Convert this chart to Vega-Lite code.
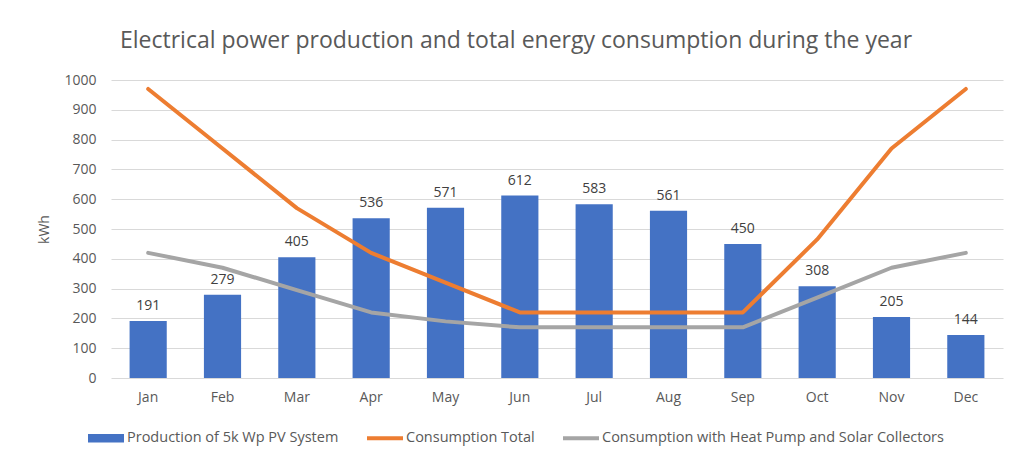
{
  "$schema": "https://vega.github.io/schema/vega-lite/v6.json",
  "width": 892,
  "height": 298,
  "autosize": {"type": "none"},
  "padding": {"left": 111, "top": 80, "right": 10, "bottom": 81},
  "background": "white",
  "config": {"font": "Open Sans", "view": {"stroke": null}},
  "title": {
    "text": "Electrical power production and total energy consumption during the year",
    "fontSize": 23,
    "fontWeight": "normal",
    "color": "#595959",
    "anchor": "middle",
    "dx": -41,
    "baseline": "alphabetic",
    "offset": 2
  },
  "data": {
    "values": [
      {"month": "Jan", "series": "Production of 5k Wp PV System", "kwh": 191},
      {"month": "Feb", "series": "Production of 5k Wp PV System", "kwh": 279},
      {"month": "Mar", "series": "Production of 5k Wp PV System", "kwh": 405},
      {"month": "Apr", "series": "Production of 5k Wp PV System", "kwh": 536},
      {"month": "May", "series": "Production of 5k Wp PV System", "kwh": 571},
      {"month": "Jun", "series": "Production of 5k Wp PV System", "kwh": 612},
      {"month": "Jul", "series": "Production of 5k Wp PV System", "kwh": 583},
      {"month": "Aug", "series": "Production of 5k Wp PV System", "kwh": 561},
      {"month": "Sep", "series": "Production of 5k Wp PV System", "kwh": 450},
      {"month": "Oct", "series": "Production of 5k Wp PV System", "kwh": 308},
      {"month": "Nov", "series": "Production of 5k Wp PV System", "kwh": 205},
      {"month": "Dec", "series": "Production of 5k Wp PV System", "kwh": 144},
      {"month": "Jan", "series": "Consumption Total", "kwh": 970},
      {"month": "Feb", "series": "Consumption Total", "kwh": 770},
      {"month": "Mar", "series": "Consumption Total", "kwh": 570},
      {"month": "Apr", "series": "Consumption Total", "kwh": 420},
      {"month": "May", "series": "Consumption Total", "kwh": 320},
      {"month": "Jun", "series": "Consumption Total", "kwh": 220},
      {"month": "Jul", "series": "Consumption Total", "kwh": 220},
      {"month": "Aug", "series": "Consumption Total", "kwh": 220},
      {"month": "Sep", "series": "Consumption Total", "kwh": 220},
      {"month": "Oct", "series": "Consumption Total", "kwh": 465},
      {"month": "Nov", "series": "Consumption Total", "kwh": 770},
      {"month": "Dec", "series": "Consumption Total", "kwh": 970},
      {"month": "Jan", "series": "Consumption with Heat Pump and Solar Collectors", "kwh": 420},
      {"month": "Feb", "series": "Consumption with Heat Pump and Solar Collectors", "kwh": 370},
      {"month": "Mar", "series": "Consumption with Heat Pump and Solar Collectors", "kwh": 295},
      {"month": "Apr", "series": "Consumption with Heat Pump and Solar Collectors", "kwh": 220},
      {"month": "May", "series": "Consumption with Heat Pump and Solar Collectors", "kwh": 190},
      {"month": "Jun", "series": "Consumption with Heat Pump and Solar Collectors", "kwh": 170},
      {"month": "Jul", "series": "Consumption with Heat Pump and Solar Collectors", "kwh": 170},
      {"month": "Aug", "series": "Consumption with Heat Pump and Solar Collectors", "kwh": 170},
      {"month": "Sep", "series": "Consumption with Heat Pump and Solar Collectors", "kwh": 170},
      {"month": "Oct", "series": "Consumption with Heat Pump and Solar Collectors", "kwh": 270},
      {"month": "Nov", "series": "Consumption with Heat Pump and Solar Collectors", "kwh": 370},
      {"month": "Dec", "series": "Consumption with Heat Pump and Solar Collectors", "kwh": 420}
    ]
  },
  "encoding": {
    "x": {
      "field": "month",
      "type": "nominal",
      "sort": ["Jan","Feb","Mar","Apr","May","Jun","Jul","Aug","Sep","Oct","Nov","Dec"],
      "scale": {"paddingInner": 0.5, "paddingOuter": 0.25},
      "axis": {
        "title": null,
        "labelAngle": 0,
        "labelFontSize": 14,
        "labelColor": "#595959",
        "labelPadding": 12,
        "ticks": false,
        "tickSize": 0,
        "domain": false,
        "grid": false
      }
    },
    "y": {
      "field": "kwh",
      "type": "quantitative",
      "scale": {"domain": [0, 1000], "nice": false},
      "axis": {
        "title": "kWh",
        "titleFontSize": 14,
        "titleFontWeight": "normal",
        "titleColor": "#595959",
        "titlePadding": 12,
        "format": "d",
        "values": [0,100,200,300,400,500,600,700,800,900,1000],
        "labelFontSize": 14,
        "labelColor": "#595959",
        "labelPadding": 15,
        "ticks": false,
        "tickSize": 0,
        "domain": false,
        "grid": true,
        "gridColor": "#d9d9d9",
        "gridWidth": 1
      }
    },
    "color": {
      "field": "series",
      "type": "nominal",
      "scale": {
        "domain": ["Production of 5k Wp PV System", "Consumption Total", "Consumption with Heat Pump and Solar Collectors"],
        "range": ["#4472C4", "#ED7D31", "#A5A5A5"]
      },
      "legend": {
        "title": null,
        "orient": "none",
        "direction": "horizontal",
        "legendX": -23,
        "legendY": 340,
        "labelFontSize": 14.5,
        "labelColor": "#595959",
        "labelOffset": 3,
        "labelLimit": 0,
        "columnPadding": 28,
        "symbolSize": 1296,
        "symbolStrokeWidth": 0,
        "encode": {
          "symbols": {
            "update": {
              "shape": {"signal": "datum.value === 'Production of 5k Wp PV System' ? 'M-1,-0.24H1V0.24H-1Z' : 'M-1,-0.11H1V0.11H-1Z'"},
              "fill": {"scale": "color", "field": "value"},
              "stroke": {"value": "transparent"},
              "strokeWidth": {"value": 0},
              "opacity": {"value": 1}
            }
          }
        }
      }
    }
  },
  "layer": [
    {
      "transform": [{"filter": "datum.series === 'Production of 5k Wp PV System'"}],
      "mark": {"type": "bar"}
    },
    {
      "transform": [{"filter": "datum.series === 'Production of 5k Wp PV System'"}],
      "mark": {"type": "text", "baseline": "bottom", "dy": -8, "fontSize": 14, "color": "#404040"},
      "encoding": {"text": {"field": "kwh", "type": "quantitative"}, "color": {"value": "#404040"}}
    },
    {
      "transform": [{"filter": "datum.series !== 'Production of 5k Wp PV System'"}],
      "mark": {"type": "line", "strokeWidth": 4, "interpolate": "linear", "strokeCap": "round", "strokeJoin": "round"},
      "encoding": {"detail": {"field": "series"}}
    }
  ]
}
